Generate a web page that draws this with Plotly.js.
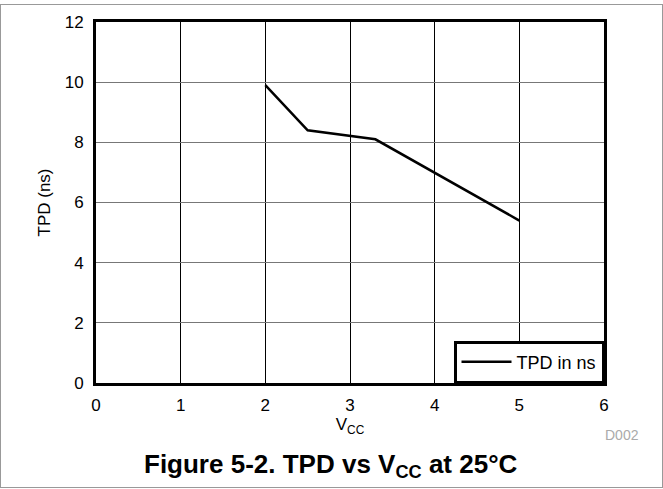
<!DOCTYPE html>
<html>
<head>
<meta charset="utf-8">
<script src="https://cdn.plot.ly/plotly-3.0.1.min.js"></script>
<style>
html,body{margin:0;padding:0;background:#fff;}
#wrap{position:absolute;left:0;top:4px;width:661px;height:482px;border:1px solid #999;}
#chart{position:absolute;left:0;top:0;width:663px;height:489px;}
</style>
</head>
<body>
<div id="wrap"></div>
<div id="chart"></div>
<script>
const vcc = [2, 2.5, 3.3, 5];
const tpd = [9.9, 8.4, 8.1, 5.4];
const xTicks = [0, 1, 2, 3, 4, 5, 6];
const yTicks = [0, 2, 4, 6, 8, 10, 12];
const seriesName = 'TPD in ns';

const font = 'Liberation Sans, Arial, sans-serif';

Plotly.newPlot('chart', [{
  x: vcc, y: tpd, mode: 'lines', name: seriesName,
  line: {color: '#000', width: 2.5}
}], {
  width: 663, height: 489,
  margin: {l: 96, r: 59, t: 22, b: 106},
  paper_bgcolor: 'rgba(0,0,0,0)',
  plot_bgcolor: '#fff',
  font: {family: font, color: '#000', size: 17},
  showlegend: true,
  legend: {x: 1, y: 0, xanchor: 'right', yanchor: 'bottom', bordercolor: '#000', borderwidth: 2.5,
           bgcolor: '#fff', font: {size: 18}, itemwidth: 50},
  xaxis: {range: [0, 6], tickvals: xTicks, ticktext: xTicks.map(String),
          showgrid: true, gridcolor: '#000', gridwidth: 1, zeroline: false,
          showline: true, linecolor: '#000', linewidth: 3, mirror: true,
          ticks: '', ticklabelstandoff: 5,
          title: {text: 'V<sub>CC</sub>', font: {size: 17}, standoff: 1}},
  yaxis: {range: [0, 12], tickvals: yTicks, ticktext: yTicks.map(String),
          showgrid: true, gridcolor: '#777', gridwidth: 1, zeroline: false,
          showline: true, linecolor: '#000', linewidth: 3, mirror: true,
          ticks: '', ticklabelstandoff: 6,
          title: {text: 'TPD (ns)', font: {size: 17}, standoff: 10}},
  annotations: [
    {xref: 'paper', yref: 'paper', x: 1.035, y: -0.145, xanchor: 'center', yanchor: 'middle',
     text: 'D002', showarrow: false, font: {size: 14, color: '#aaa'}},
    {xref: 'paper', yref: 'paper', x: 0.463, y: -0.228, xanchor: 'center', yanchor: 'middle',
     text: '<b>Figure 5-2. TPD vs V<sub>CC</sub> at 25°C</b>', showarrow: false, font: {size: 26}}
  ]
}, {displayModeBar: false, staticPlot: true});
</script>
</body>
</html>
